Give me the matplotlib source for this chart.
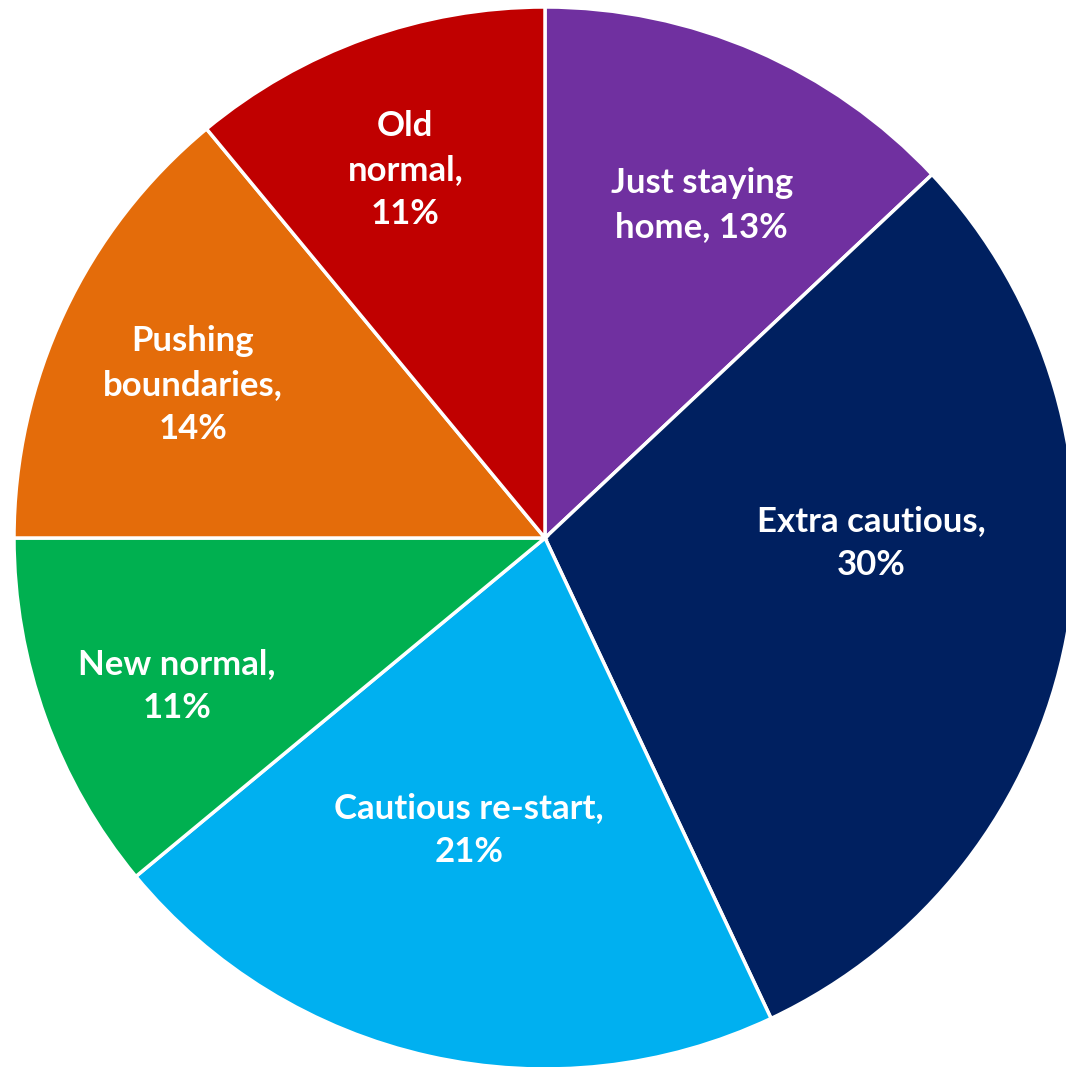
import numpy as np
import matplotlib.pyplot as plt

labels = ["Just staying home", "Extra cautious", "Cautious re-start", "New normal",
          "Pushing boundaries", "Old normal"]
values = [13, 30, 21, 11, 14, 11]
colors = ["#7030A0", "#002060", "#00B0F0", "#00B050", "#E46C0A", "#C00000"]
label_text = ["Just staying\nhome, 13%", "Extra cautious,\n30%", "Cautious re-start,\n21%",
              "New normal,\n11%", "Pushing\nboundaries,\n14%", "Old\nnormal,\n11%"]
# label placement: polar angle (deg) and fraction of radius
label_ang = [64.8, -0.9, -104.6, -158.1, 156.5, 110.8]
label_r = [0.693, 0.614, 0.568, 0.747, 0.723, 0.741]

fig = plt.figure(figsize=(10.66, 10.67), dpi=100)
ax = fig.add_axes([0, 0, 1, 1])

ax.pie(values, colors=colors, startangle=90, counterclock=False,
       wedgeprops=dict(edgecolor="white", linewidth=2.5))

for txt, a, r in zip(label_text, label_ang, label_r):
    t = np.deg2rad(a)
    ax.text(r * np.cos(t), r * np.sin(t), txt, ha="center", va="center",
            color="white", fontsize=25, fontweight="bold", family="Lato",
            linespacing=1.45)

R = 531.0
ax.set_xlim(-545 / R, (1066 - 545) / R)
ax.set_ylim(-529 / R, 538 / R)
ax.set_aspect("auto")
ax.axis("off")

fig.savefig("out.png", dpi=100)
